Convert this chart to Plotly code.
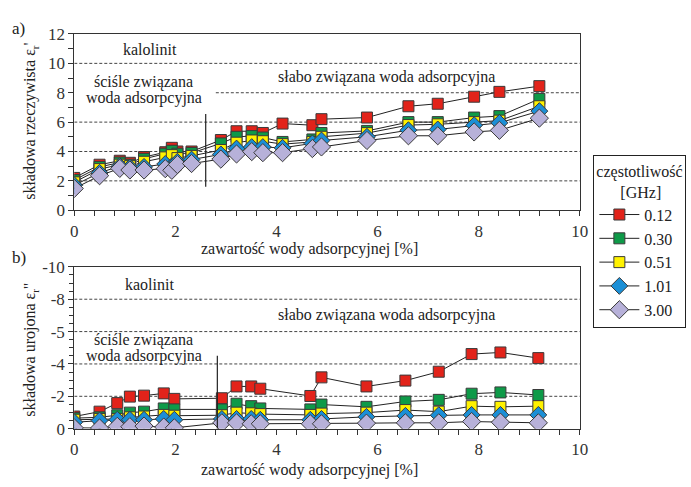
import plotly.graph_objects as go

# a) real part, kaolinite
x_re = [0, 0.5, 0.9, 1.1, 1.38, 1.8, 1.93, 2.04, 2.32, 2.9, 3.21, 3.51, 3.73, 4.12,
        4.71, 4.89, 5.79, 6.61, 7.19, 7.91, 8.41, 9.2]
re_012 = [2.2, 3.1, 3.37, 3.23, 3.62, 3.95, 4.25, 4.0, 4.0, 4.78, 5.38, 5.38, 5.26, 5.9,
          5.79, 6.2, 6.31, 7.08, 7.25, 7.73, 8.06, 8.45]
re_030 = [2.05, 2.95, 3.25, 3.1, 3.5, 3.85, 4.05, 3.85, 3.9, 4.55, 5.0, 5.05, 4.95, 4.65,
          4.82, 5.26, 5.4, 6.0, 6.0, 6.31, 6.41, 7.58]
re_051 = [1.9, 2.8, 3.1, 3.0, 3.3, 3.6, 3.75, 3.55, 3.7, 4.1, 4.6, 4.75, 4.7, 4.5,
          4.65, 5.0, 5.25, 5.8, 5.85, 6.0, 6.1, 7.08]
re_101 = [1.7, 2.55, 3.0, 2.9, 2.95, 3.15, 3.0, 3.3, 3.45, 3.8, 4.2, 4.3, 4.3, 4.25,
          4.55, 4.75, 5.0, 5.45, 5.5, 5.79, 5.95, 6.75]
re_300 = [1.48, 2.35, 2.85, 2.74, 2.74, 2.83, 2.72, 3.11, 3.18, 3.48, 3.83, 3.99, 3.92, 3.92,
          4.2, 4.31, 4.75, 5.07, 5.07, 5.33, 5.44, 6.27]

# b) imaginary part, kaolinite
x_im = [0, 0.5, 0.85, 1.1, 1.38, 1.77, 1.98, 2.92, 3.21, 3.5, 3.68, 4.67, 4.89, 5.78,
        6.55, 7.21, 7.86, 8.43, 9.18]
im_012 = [0.75, 1.05, 1.58, 1.98, 2.04, 2.18, 1.84, 1.88, 2.61, 2.61, 2.47, 2.02, 3.17, 2.61,
          2.97, 3.52, 4.61, 4.71, 4.36]
im_030 = [0.65, 0.7, 0.83, 0.99, 1.05, 1.25, 1.19, 1.19, 1.54, 1.39, 1.25, 1.19, 1.49, 1.35,
          1.68, 1.78, 2.16, 2.24, 2.08]
im_051 = [0.55, 0.6, 0.6, 0.7, 0.75, 0.85, 0.8, 0.83, 0.99, 0.95, 0.9, 0.85, 0.93, 0.99,
          1.15, 1.05, 1.39, 1.35, 1.39]
im_101 = [0.4, 0.5, 0.55, 0.55, 0.55, 0.6, 0.55, 0.6, 0.6, 0.6, 0.55, 0.55, 0.6, 0.73,
          0.79, 0.83, 0.85, 0.85, 0.85]
im_300 = [0.05, 0.04, 0.14, 0.12, 0.16, 0.1, 0.05, 0.36, 0.36, 0.3, 0.3, 0.3, 0.3, 0.34,
          0.36, 0.36, 0.44, 0.4, 0.36]

freq_labels = ["0.12", "0.30", "0.51", "1.01", "3.00"]
colors = ["#E2231A", "#0E9A48", "#FFF200", "#1B8FD6", "#B7B1D9"]
symbols = ["square", "square", "square", "diamond", "diamond"]
sizes = [11, 11, 11, 13, 14]

im_ticks = [0, 2, 4, 6, 8, 10]
im_ticktext = ["0", "-2", "-4", "-5", "-8", "-10"]

FONT = "'Liberation Serif', 'DejaVu Serif', 'Times New Roman', serif"

fig = go.Figure()

re_series = [re_012, re_030, re_051, re_101, re_300]
im_series = [im_012, im_030, im_051, im_101, im_300]

for i in range(5):
    mk = dict(symbol=symbols[i], size=sizes[i], color=colors[i],
              line=dict(color="#3a3a3a", width=1))
    fig.add_trace(go.Scatter(
        x=x_re, y=re_series[i], mode="lines+markers", name=freq_labels[i],
        legendgroup=freq_labels[i], line=dict(color="#222", width=1), marker=mk,
        xaxis="x", yaxis="y"))
    fig.add_trace(go.Scatter(
        x=x_im, y=im_series[i], mode="lines+markers", name=freq_labels[i],
        legendgroup=freq_labels[i], showlegend=False,
        line=dict(color="#222", width=1), marker=mk,
        xaxis="x2", yaxis="y2"))

axis_common = dict(showline=True, linecolor="#333", linewidth=1, mirror=True,
                   ticks="outside", ticklen=5, tickcolor="#333", showgrid=False,
                   zeroline=False, tickfont=dict(family=FONT, size=17, color="#333"))

fig.update_layout(
    width=691, height=487,
    margin=dict(l=0, r=0, t=0, b=0),
    paper_bgcolor="white", plot_bgcolor="white",
    font=dict(family=FONT, size=16, color="#222"),
    xaxis=dict(domain=[0.1035, 0.848], range=[0, 10], dtick=2, anchor="y",
               minor=dict(dtick=0.4, ticks="outside", ticklen=5, tickcolor="#333"),
               **axis_common),
    yaxis=dict(domain=[0.570, 0.9466], range=[0, 12], dtick=2, anchor="x",
               minor=dict(dtick=1, ticks="outside", ticklen=5, tickcolor="#333"),
               **axis_common),
    xaxis2=dict(domain=[0.1035, 0.848], range=[0, 10], dtick=2, anchor="y2",
                minor=dict(dtick=0.4, ticks="outside", ticklen=5, tickcolor="#333"),
                **axis_common),
    yaxis2=dict(domain=[0.1033, 0.449], range=[0, 10], tickvals=im_ticks,
                ticktext=im_ticktext, anchor="x2",
                minor=dict(dtick=0.5, ticks="outside", ticklen=4, tickcolor="#333"),
                **axis_common),
    legend=dict(x=0.868, y=0.688, xanchor="left", yanchor="top",
                bgcolor="white", bordercolor="#222", borderwidth=1,
                font=dict(family=FONT, size=16, color="#222"),
                title=dict(text="częstotliwość<br>      [GHz]", side="top",
                           font=dict(family=FONT, size=16, color="#222")),
                itemwidth=40, tracegroupgap=0),
)

shapes = []
dash = dict(color="#444", width=1, dash="3px,2px")
# top panel gridlines
for yv, x0 in [(2, 0), (4, 0), (6, 0), (8, 2.8), (10, 0)]:
    shapes.append(dict(type="line", xref="x", yref="y", x0=x0, x1=10, y0=yv, y1=yv,
                       line=dash, layer="below"))
# bottom panel gridlines
for yv in [2, 4, 6, 8]:
    shapes.append(dict(type="line", xref="x2", yref="y2", x0=0, x1=10, y0=yv, y1=yv,
                       line=dash, layer="below"))
# boundary between tightly and loosely bound water
shapes.append(dict(type="line", xref="x", yref="y", x0=2.6, x1=2.6, y0=1.6, y1=6.55,
                   line=dict(color="#222", width=1.2)))
shapes.append(dict(type="line", xref="x2", yref="y2", x0=2.83, x1=2.83, y0=0, y1=4.5,
                   line=dict(color="#222", width=1.2)))
fig.update_layout(shapes=shapes)

ann = []


def txt(text, x, y, xref, yref, size=16, angle=0, xanchor="center"):
    ann.append(dict(text=text, x=x, y=y, xref=xref, yref=yref, showarrow=False,
                    xanchor=xanchor, yanchor="middle", textangle=angle,
                    font=dict(family=FONT, size=size, color="#222")))


txt("kalolinit", 1.49, 10.93, "x", "y")
txt("ściśle związana", 1.37, 8.75, "x", "y")
txt("woda adsorpcyjna", 1.37, 7.66, "x", "y")
txt("słabo związana woda adsorpcyjna", 6.17, 9.1, "x", "y")

txt("kaolinit", 1.49, 8.88, "x2", "y2")
txt("słabo związana woda adsorpcyjna", 6.17, 7.04, "x2", "y2")
txt("ściśle związana", 1.37, 5.45, "x2", "y2")
txt("woda adsorpcyjna", 1.37, 4.5, "x2", "y2")

txt("a)", 0.022, 0.959, "paper", "paper", size=17)
txt("b)", 0.022, 0.47, "paper", "paper", size=17)
txt("zawartość wody adsorpcyjnej [%]", 0.45, 0.487, "paper", "paper")
txt("zawartość wody adsorpcyjnej [%]", 0.45, 0.016, "paper", "paper")
txt("składowa rzeczywista ε<sub>r</sub>'", 0.039, 0.76, "paper", "paper", angle=-90)
txt("składowa urojona ε<sub>r</sub>''", 0.039, 0.273, "paper", "paper", angle=-90)

fig.update_layout(annotations=ann)

fig.write_html("out.html")
